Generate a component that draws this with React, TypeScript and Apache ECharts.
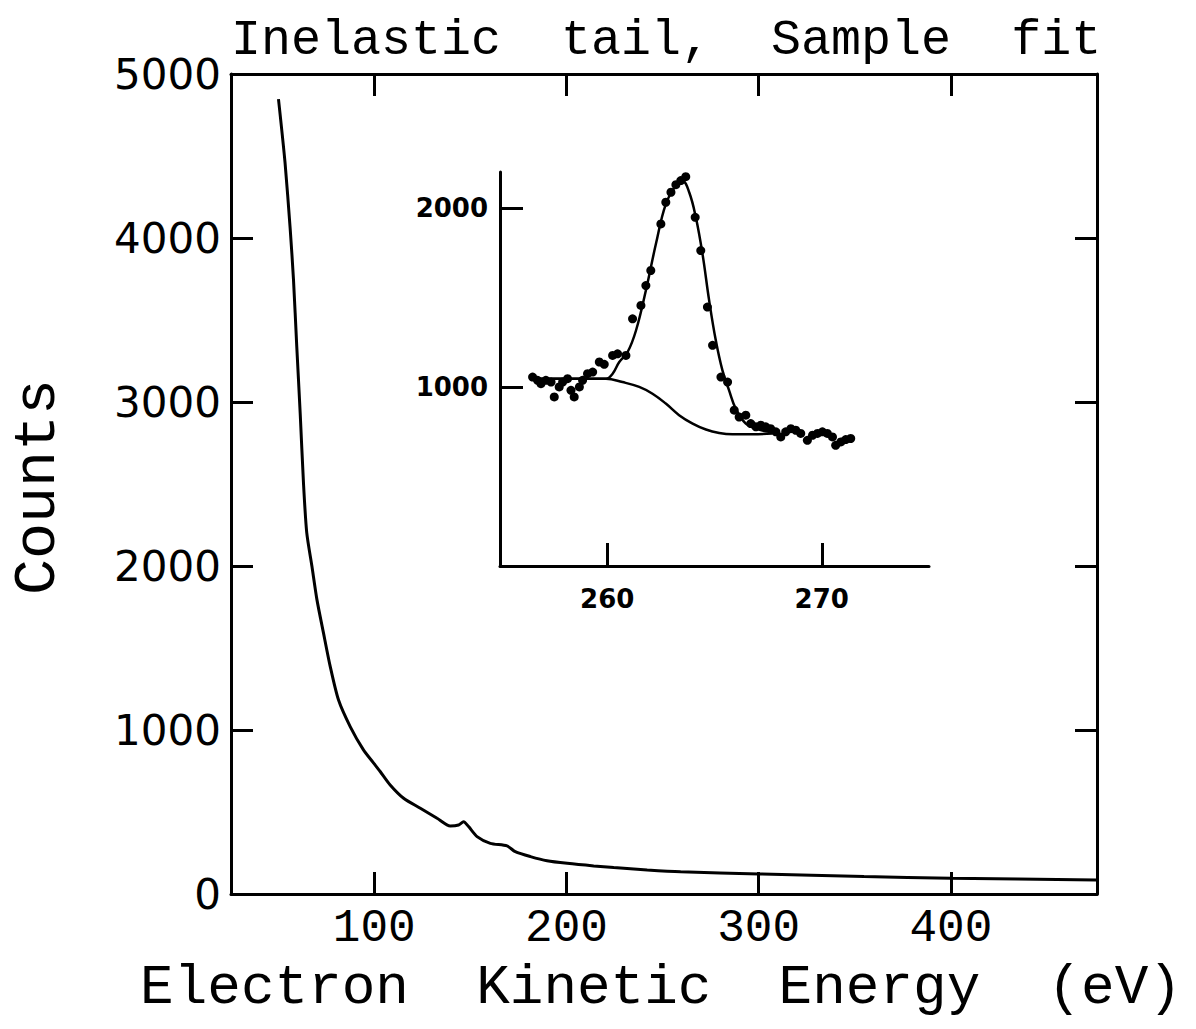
import React, { useEffect, useRef } from "react";
import * as echarts from "echarts";

// Main spectrum (Electron kinetic energy in eV, counts)
const mainEnergy = [50.2, 53.6, 56.3, 58.0, 59.7, 61.5, 63.2, 64.9, 67.6, 70.2, 73.6, 77.1, 81.4, 87.5, 94.4, 99.6, 103.1, 108.3, 115.3, 124.0, 132.7, 139.6, 143.9, 146.5, 149.1, 153.5, 160.4, 169.1, 173.4, 181.3, 189.9, 200.4, 214.2, 224.6, 242.0, 259.4, 300.2, 354.8, 400.0, 475.5];
const mainCounts = [4847, 4461, 4054, 3748, 3341, 2930, 2507, 2203, 1998, 1795, 1592, 1388, 1184, 1021, 879, 800, 747, 665, 584, 523, 462, 415, 421, 441, 411, 350, 309, 293, 258, 228, 203, 187, 171, 161, 147, 136, 122, 106, 96, 85];

// Inset: measured points
const dotEnergy = [256.52, 256.75, 256.91, 257.14, 257.38, 257.53, 257.76, 257.92, 258.15, 258.31, 258.46, 258.70, 258.85, 259.08, 259.32, 259.63, 259.86, 260.25, 260.48, 260.87, 261.18, 261.57, 261.80, 262.03, 262.50, 262.73, 262.97, 263.20, 263.43, 263.66, 264.10, 264.36, 264.67, 264.91, 265.30, 265.61, 265.92, 266.15, 266.46, 266.69, 266.93, 267.16, 267.39, 267.62, 267.86, 268.09, 268.32, 268.56, 268.79, 269.02, 269.33, 269.57, 269.80, 270.03, 270.26, 270.50, 270.65, 270.89, 271.12, 271.35];
const dotCounts = [1055, 1037, 1018, 1037, 1027, 944, 1000, 1027, 1046, 981, 944, 1000, 1037, 1074, 1083, 1139, 1126, 1176, 1185, 1176, 1380, 1455, 1566, 1650, 1910, 2031, 2087, 2129, 2152, 2174, 1947, 1761, 1446, 1232, 1055, 1027, 870, 832, 842, 795, 777, 786, 777, 767, 749, 721, 749, 767, 758, 740, 702, 730, 740, 749, 740, 721, 674, 693, 706, 712];

// Inset: total fit
const fitEnergy = [256.52, 258.0, 259.94, 260.25, 260.56, 260.95, 261.34, 261.80, 262.27, 262.73, 263.20, 263.51, 263.82, 264.13, 264.44, 264.75, 265.06, 265.37, 265.68, 265.99, 266.46, 266.93, 267.55];
const fitCounts = [1046, 1046, 1046, 1074, 1139, 1195, 1315, 1538, 1799, 2021, 2124, 2150, 2087, 1947, 1743, 1483, 1260, 1092, 981, 879, 795, 767, 749];

// Inset: inelastic background
const bgEnergy = [256.52, 257.92, 259.94, 260.71, 261.49, 262.11, 262.73, 263.35, 263.98, 264.60, 265.22, 265.84, 266.77, 267.70];
const bgCounts = [1046, 1046, 1046, 1027, 1000, 962, 907, 842, 795, 762, 743, 736, 736, 740];

const mainXTicks = [100, 200, 300, 400];
const insetXTicks = [260, 270];
const insetYTicks = [1000, 2000];

const titleText = "Inelastic  tail,  Sample  fit";
const xName = "Electron  Kinetic  Energy  (eV)";
const yName = "Counts";

const zip = (a: number[], b: number[]) => a.map((v, i) => [v, b[i]]);
const plain = (v: number) => String(v);

export default function App() {
  const ref = useRef<HTMLDivElement>(null);
  useEffect(() => {
    if (!ref.current) return;
    const chart = echarts.init(ref.current, undefined, { renderer: "svg" });
    const black = "#000";
    const mono = "Liberation Mono";
    const frameLine = { show: true, onZero: false, lineStyle: { color: black, width: 3 } };
    const mainTick = { show: true, inside: true, length: 22, lineStyle: { color: black, width: 3 } };
    chart.setOption({
      animation: false,
      backgroundColor: "#fff",
      title: {
        text: titleText,
        left: 226,
        top: 10,
        textStyle: { fontFamily: mono, fontSize: 50, fontWeight: "normal", color: black },
      },
      grid: [
        { left: 231, top: 74, width: 866, height: 820 },
        { left: 500, top: 172, width: 429, height: 394 },
      ],
      xAxis: [
        {
          gridIndex: 0, type: "value", min: 25.5, max: 476, position: "bottom",
          axisLine: frameLine,
          axisTick: { ...mainTick, customValues: mainXTicks },
          axisLabel: { customValues: mainXTicks, formatter: plain, fontFamily: mono, fontSize: 46, color: black, margin: 12 },
          splitLine: { show: false },
        },
        {
          gridIndex: 0, type: "value", min: 25.5, max: 476, position: "top",
          axisLine: frameLine,
          axisTick: { ...mainTick, customValues: mainXTicks },
          axisLabel: { show: false },
          splitLine: { show: false },
        },
        {
          gridIndex: 1, type: "value", min: 255, max: 275, position: "bottom",
          axisLine: frameLine,
          axisTick: { show: true, inside: true, length: 23, lineStyle: { color: black, width: 3 }, customValues: insetXTicks },
          axisLabel: { customValues: insetXTicks, formatter: plain, fontFamily: "DejaVu Sans", fontWeight: "bold", fontSize: 26, color: black, margin: 20 },
          splitLine: { show: false },
        },
      ],
      yAxis: [
        {
          gridIndex: 0, type: "value", min: 0, max: 5000, interval: 1000, position: "left",
          axisLine: frameLine,
          axisTick: mainTick,
          axisLabel: { formatter: plain, fontFamily: "DejaVu Sans", fontSize: 42, color: black, margin: 10 },
          splitLine: { show: false },
        },
        {
          gridIndex: 0, type: "value", min: 0, max: 5000, interval: 1000, position: "right",
          axisLine: frameLine,
          axisTick: mainTick,
          axisLabel: { show: false },
          splitLine: { show: false },
        },
        {
          gridIndex: 1, type: "value", min: 0, max: 2200, position: "left",
          axisLine: frameLine,
          axisTick: { show: true, inside: true, length: 23, lineStyle: { color: black, width: 3 }, customValues: insetYTicks },
          axisLabel: { customValues: insetYTicks, formatter: plain, fontFamily: "DejaVu Sans", fontWeight: "bold", fontSize: 26, color: black, margin: 12 },
          splitLine: { show: false },
        },
      ],
      series: [
        {
          type: "line", xAxisIndex: 0, yAxisIndex: 0, data: zip(mainEnergy, mainCounts),
          showSymbol: false, smooth: 0.25, lineStyle: { color: black, width: 3 },
        },
        {
          type: "line", xAxisIndex: 2, yAxisIndex: 2, data: zip(bgEnergy, bgCounts),
          showSymbol: false, smooth: 0.4, lineStyle: { color: black, width: 2.5 },
        },
        {
          type: "line", xAxisIndex: 2, yAxisIndex: 2, data: zip(fitEnergy, fitCounts),
          showSymbol: false, smooth: 0.4, lineStyle: { color: black, width: 2.5 },
        },
        {
          type: "scatter", xAxisIndex: 2, yAxisIndex: 2, data: zip(dotEnergy, dotCounts),
          symbolSize: 9, itemStyle: { color: black, opacity: 1 },
        },
      ],
      graphic: [
        {
          type: "text", x: 661, y: 988,
          style: { text: xName, font: `56px "${mono}"`, fill: black, align: "center", verticalAlign: "middle" },
        },
        {
          type: "text", x: 38, y: 487, rotation: Math.PI / 2,
          style: { text: yName, font: `60px "${mono}"`, fill: black, align: "center", verticalAlign: "middle" },
        },
      ],
    });
    return () => chart.dispose();
  }, []);
  return <div ref={ref} style={{ position: "fixed", left: 0, top: 0, width: 1196, height: 1029 }} />;
}
